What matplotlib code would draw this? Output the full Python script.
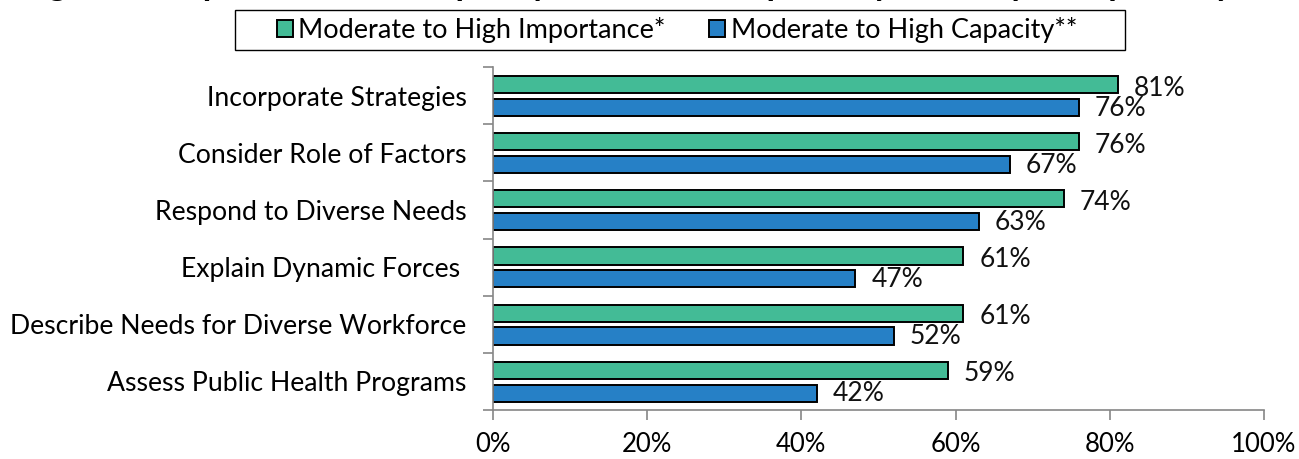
import matplotlib
matplotlib.use("Agg")
import matplotlib.pyplot as plt
from matplotlib.patches import Patch, Rectangle

plt.rcParams['font.family'] = ['Lato', 'DejaVu Sans']

categories = [
    "Incorporate Strategies",
    "Consider Role of Factors",
    "Respond to Diverse Needs",
    "Explain Dynamic Forces ",
    "Describe Needs for Diverse Workforce",
    "Assess Public Health Programs",
]
importance = [81, 76, 74, 61, 61, 59]
capacity = [76, 67, 63, 47, 52, 42]
series_names = ["Moderate to High Importance*", "Moderate to High Capacity**"]
x_ticks = [0, 20, 40, 60, 80, 100]
title = "Figure 7. Importance and Capacity for Each Competency Area, by Competency"

green = "#43BB96"
blue = "#2680C6"
spine_gray = "#868686"

W, H = 1299, 459
fig = plt.figure(figsize=(W / 100, H / 100), dpi=100)
ax = fig.add_axes([493 / W, 1 - 410 / H, (1264 - 493) / W, (410 - 67) / H])

pos = list(range(len(categories)))
bar_h = 0.30
ax.barh([p - 0.195 for p in pos], importance, height=bar_h, color=green,
        edgecolor="black", linewidth=1.4)
ax.barh([p + 0.205 for p in pos], capacity, height=bar_h, color=blue,
        edgecolor="black", linewidth=1.4)

for p, v in zip(pos, importance):
    ax.annotate(f"{v}%", (v, p - 0.13), xytext=(11.5, 0), textcoords="offset points",
                ha="left", va="center", fontsize=19, color="#111111")
for p, v in zip(pos, capacity):
    ax.annotate(f"{v}%", (v, p + 0.22), xytext=(11.5, 0), textcoords="offset points",
                ha="left", va="center", fontsize=19, color="#111111")

ax.set_xlim(0, 100)
ax.set_ylim(len(categories) - 0.5, -0.5)

# category boundaries carry the tick marks, centres carry the labels
ax.set_yticks([i - 0.5 for i in range(len(categories) + 1)])
ax.set_yticklabels([])
ax.set_yticks(pos, minor=True)
ax.set_yticklabels(categories, minor=True, fontsize=19.2)
ax.tick_params(axis="y", which="minor", length=0, pad=19)
ax.tick_params(axis="y", which="major", length=7, width=1.2, color=spine_gray, direction="out")

ax.set_xticks(x_ticks)
ax.set_xticklabels([f"{t}%" for t in x_ticks], fontsize=18.5)
ax.tick_params(axis="x", length=7, width=1.2, color=spine_gray, direction="out", pad=9)

for s in ("top", "right"):
    ax.spines[s].set_visible(False)
for s in ("left", "bottom"):
    ax.spines[s].set_color(spine_gray)
    ax.spines[s].set_linewidth(1.2)

# legend: entries without their own frame, boxed by a wider rectangle
handles = [Patch(facecolor=green, edgecolor="black", linewidth=1.4),
           Patch(facecolor=blue, edgecolor="black", linewidth=1.4)]
fig.legend(handles, series_names, loc="center", bbox_to_anchor=(677 / W, 1 - 30 / H),
           ncol=2, fontsize=19.5, frameon=False,
           handlelength=0.6, handleheight=0.6, handletextpad=0.2,
           columnspacing=1.6, borderpad=0.0, borderaxespad=0)
fig.add_artist(Rectangle((235 / W, 1 - 50 / H), (1125 - 235) / W, 40 / H,
                         transform=fig.transFigure, facecolor="none",
                         edgecolor="black", linewidth=1.0))

fig.text(20 / W, 1 + 5 / H, title, ha="left", va="baseline",
         fontsize=25, fontweight="bold", color="black")

fig.savefig("out.png", dpi=100)
